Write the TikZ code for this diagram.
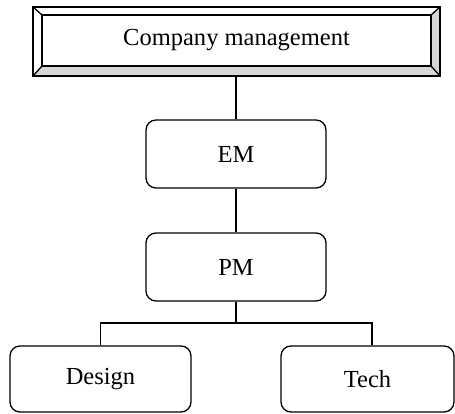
\documentclass[tikz,border=0pt]{standalone}
\usepackage{fontspec}
\setmainfont{Liberation Serif}
\usetikzlibrary{calc}
\definecolor{bevelgray}{gray}{0.84}
\begin{document}
\begin{tikzpicture}[x=1pt,y=-1pt,
  lw/.style={line width=1.3pt},
  unit/.style={lw,draw,rounded corners=10pt,inner sep=0pt,
    font=\fontsize{24.5}{28}\selectfont},
  link/.style={lw}]
\useasboundingbox (0,0) rectangle (455,414);

% bevelled title frame
\node[inner sep=0pt,minimum width=389pt,minimum height=51pt,
  font=\fontsize{24.5}{28}\selectfont] (top) at (236.5,40.5) {Company management};
\coordinate (oNW) at (33,7);
\coordinate (oNE) at (440,7);
\coordinate (oSE) at (440,76);
\coordinate (oSW) at (33,76);
\coordinate (iNW) at (42,15);
\coordinate (iNE) at (431,15);
\coordinate (iSE) at (431,66);
\coordinate (iSW) at (42,66);
\fill[white] (oNW) -- (oNE) -- (iNE) -- (iNW) -- cycle;
\fill[white] (oNW) -- (iNW) -- (iSW) -- (oSW) -- cycle;
\fill[bevelgray] (oSW) -- (iSW) -- (iSE) -- (oSE) -- cycle;
\fill[bevelgray] (oNE) -- (oSE) -- (iSE) -- (iNE) -- cycle;
\draw[lw] (oNW) rectangle (oSE);
\draw[lw] (iNW) rectangle (iSE);
\draw[lw] (oNW) -- (iNW) (oNE) -- (iNE) (oSE) -- (iSE) (oSW) -- (iSW);
\coordinate (topS) at (236,76);

% units
\node[unit,minimum width=180pt,minimum height=68pt] (em) at (236,154) {EM};
\node[unit,minimum width=180pt,minimum height=68pt] (pm) at (236,267) {PM};
\node[unit,minimum width=181pt,minimum height=66pt] (design) at (100.5,379) {Design};
\node[unit,minimum width=173pt,minimum height=66pt] (tech) at (367.5,379) {Tech};

% connectors
\draw[link] (topS) -- (em.north);
\draw[link] (em.south) -- (pm.north);
\coordinate (J) at (236,323);
\coordinate (techTop) at ($(tech.north)+(4.5,0)$);
\draw[link] (pm.south) -- (J);
\draw[link] (design.north) |- (J) -| (techTop);
\end{tikzpicture}
\end{document}
